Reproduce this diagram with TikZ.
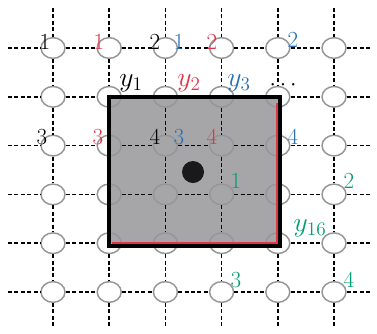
\documentclass[tikz,border=0pt]{standalone}
\usetikzlibrary{shapes.geometric}
\definecolor{cred}{RGB}{226,52,72}
\definecolor{cblue}{RGB}{40,112,180}
\definecolor{cgreen}{RGB}{0,158,115}
\definecolor{sqgray}{RGB}{166,166,168}
\definecolor{ringgray}{RGB}{150,150,150}
\begin{document}
\begin{tikzpicture}[x=0.75pt,y=-0.75pt,
  cell/.style={ellipse,draw=ringgray,line width=1.1pt,minimum width=18pt,minimum height=15.5pt,inner sep=0pt},
  link/.style={line width=1.3pt,dash pattern=on 3pt off 1.8pt},
  lbl/.style={font=\LARGE,inner sep=0pt},
  ylbl/.style={font=\huge,inner sep=0pt}]
\useasboundingbox[fill=white] (0,0) rectangle (377,333);
\fill[sqgray] (109,97) rectangle (280,246);
\foreach \i in {0,...,5} {
  \foreach \j in {0,...,5} {
    \node[cell] (n\i\j) at ({53+56.2*\i},{48+48.8*\j}) {};
  }
}
\foreach \j in {0,...,5} {
  \coordinate (l\j) at (8,{48+48.8*\j});
  \coordinate (r\j) at (370,{48+48.8*\j});
  \draw[link] (l\j) -- (n0\j);
  \draw[link] (n5\j) -- (r\j);
  \foreach \i [count=\k from 1] in {0,...,4} {
    \draw[link] (n\i\j) -- (n\k\j);
  }
}
\foreach \i in {0,...,5} {
  \coordinate (t\i) at ({53+56.2*\i},8);
  \coordinate (b\i) at ({53+56.2*\i},327);
  \draw[link] (t\i) -- (n\i0);
  \draw[link] (n\i5) -- (b\i);
  \foreach \j [count=\k from 1] in {0,...,4} {
    \draw[link] (n\i\j) -- (n\i\k);
  }
}
\draw[cred,line width=1.1pt] (112,243) -- (277,243) -- (277,103);
\draw[line width=3pt] (109,97) rectangle (280,246);
\node[circle,fill=black!90,minimum size=16.5pt,inner sep=0pt] (dot) at (193,172) {};
% top row labels
\node[lbl] (a1) at (45,42) {1};
\node[lbl,text=cred] (b1) at (99,42) {1};
\node[lbl] (a2) at (155,42) {2};
\node[lbl,text=cblue] (c1) at (179,42) {1};
\node[lbl,text=cred] (b2) at (212,42) {2};
\node[lbl,text=cblue] (c2) at (293,40) {2};
% y labels
\node[ylbl] (y1) at (131,83) {$y_1$};
\node[ylbl,text=cred] (y2) at (189,83) {$y_2$};
\node[ylbl,text=cblue] (y3) at (239,83) {$y_3$};
\node[lbl] (dots) at (283,85) {$\cdots$};
% third row labels
\node[lbl] (a3) at (42,137) {3};
\node[lbl,text=cred] (b3) at (98,137) {3};
\node[lbl] (a4) at (155,137) {4};
\node[lbl,text=cblue] (c3) at (179,137) {3};
\node[lbl,text=cred] (b4) at (212,137) {4};
\node[lbl,text=cblue] (c4) at (293,137) {4};
% green labels
\node[lbl,text=cgreen] (d1) at (236,181) {1};
\node[lbl,text=cgreen] (d2) at (349,181) {2};
\node[ylbl,text=cgreen] (y16) at (310,228) {$y_{16}$};
\node[lbl,text=cgreen] (d3) at (236,280) {3};
\node[lbl,text=cgreen] (d4) at (349,280) {4};
\end{tikzpicture}
\end{document}
